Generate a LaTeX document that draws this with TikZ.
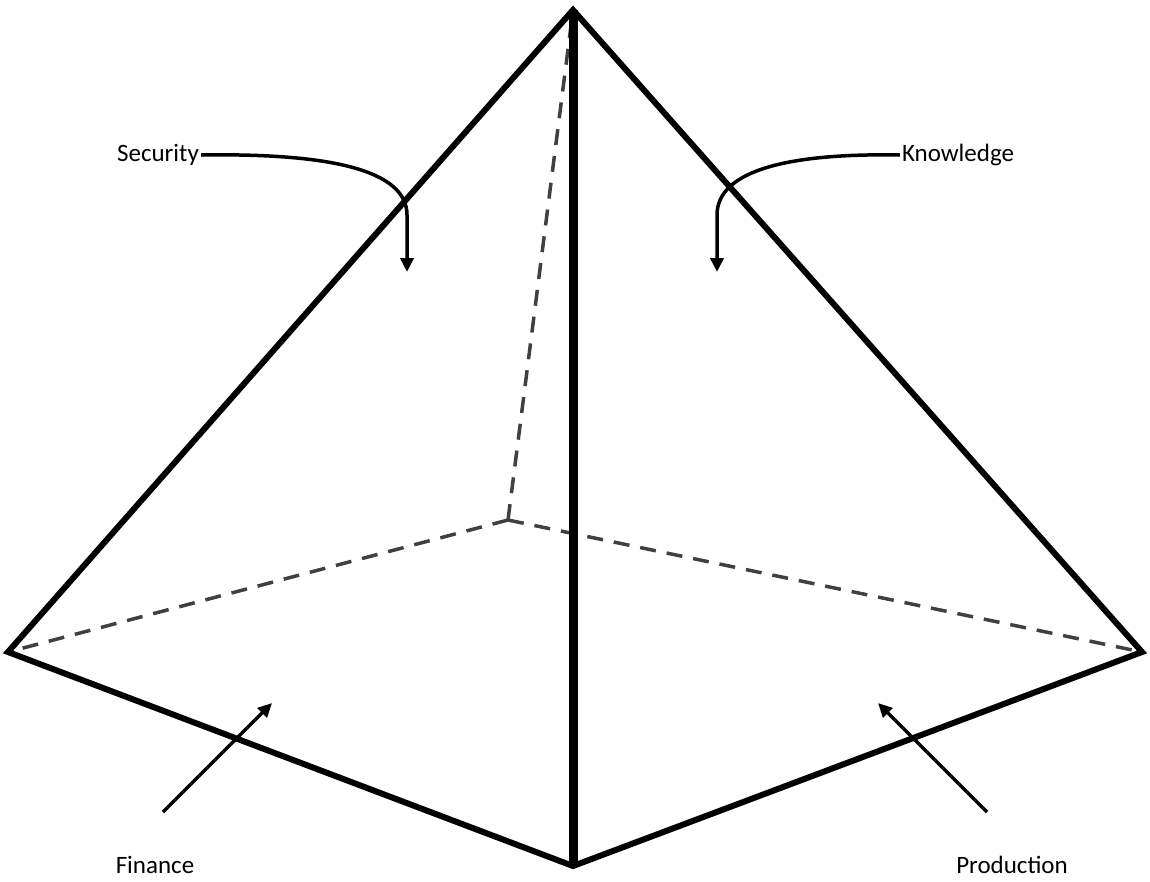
\documentclass[tikz,border=0pt]{standalone}
\usepackage{fontspec}
\setmainfont{Carlito}
\usetikzlibrary{arrows.meta}
\begin{document}
\begin{tikzpicture}[x=1pt,y=-1pt,
 edge/.style={line width=6pt,line join=miter},
 hid/.style={line width=3.5pt,dashed,dash pattern=on 16pt off 11pt,gray!50!black},
 arr/.style={line width=3.5pt,-{Triangle[length=14pt,width=13pt]}},
 lbl/.style={font=\fontsize{25}{28}\selectfont,inner sep=2pt}]
\useasboundingbox (0,0) rectangle (1150,881);
\coordinate (A) at (573,10);
\coordinate (L) at (8,652);
\coordinate (R) at (1142,652);
\coordinate (B) at (573,866);
\coordinate (K) at (508,520);
\draw[hid] (K)--(A);
\draw[hid] (K)--(L);
\draw[hid] (K)--(R);
\draw[edge] (L)--(A)--(R)--(B)--cycle;
\draw[line width=9pt] (A)--(B);
\node[lbl] (sec) at (158,155) {Security};
\node[lbl] (kno) at (958,155) {Knowledge};
\node[lbl] (fin) at (155,865) {Finance};
\node[lbl] (pro) at (1012,865) {Production};
\coordinate (s1) at (407,272);
\coordinate (k1) at (717,272);
\coordinate (f1) at (272,703);
\coordinate (p1) at (878,703);
\draw[arr] (sec.east) .. controls (330,153) and (407,170) .. (407,215) -- (s1);
\draw[arr] (kno.west) .. controls (790,153) and (717,170) .. (717,215) -- (k1);
\draw[arr] (163,812) -- (f1);
\draw[arr] (987,812) -- (p1);
\end{tikzpicture}
\end{document}
